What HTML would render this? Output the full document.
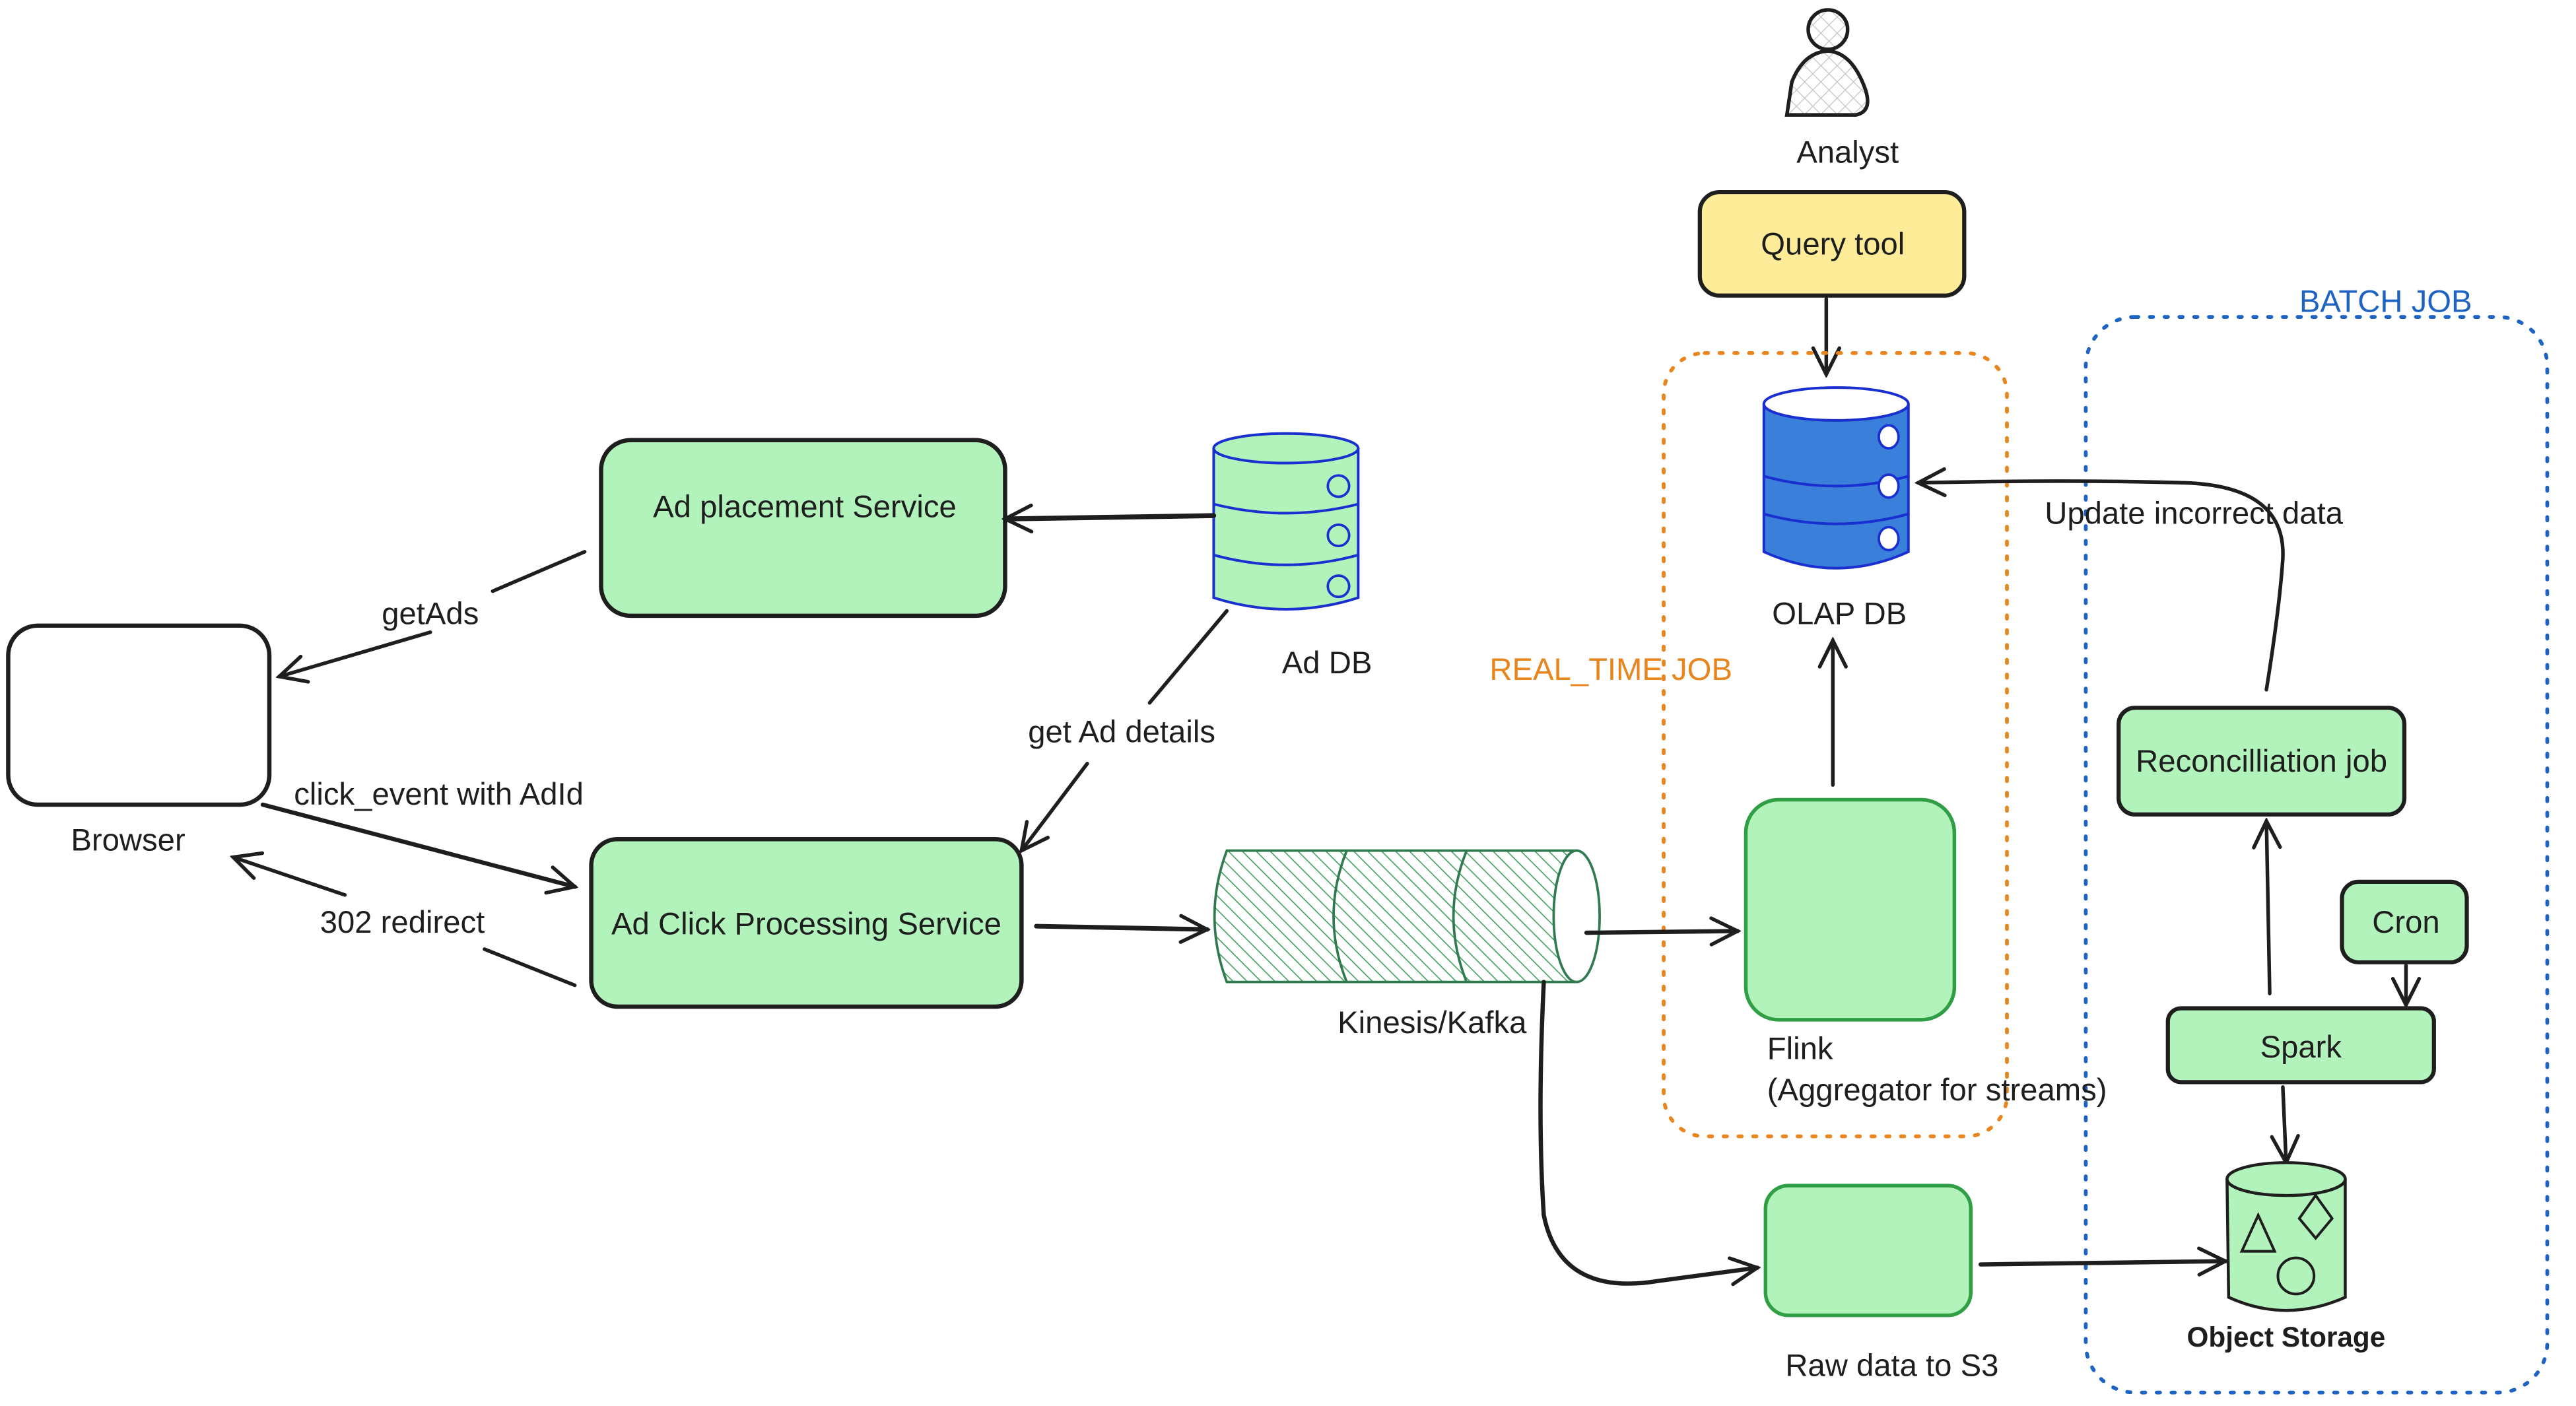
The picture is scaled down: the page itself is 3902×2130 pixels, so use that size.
<!DOCTYPE html>
<html><head><meta charset="utf-8"><style>
html,body{margin:0;padding:0;background:#fff;}
svg{display:block;}
text{font-family:"Liberation Sans",sans-serif;font-size:19px;fill:#1e1e1e;}
</style></head><body>
<svg width="3902" height="2130" viewBox="0 0 1568.5 856.2" xmlns="http://www.w3.org/2000/svg">
<defs>
<marker id="ah" viewBox="0 0 20 20" refX="18" refY="10" markerWidth="20" markerHeight="20" markerUnits="userSpaceOnUse" orient="auto">
<path d="M2,2 L18,10 L2,18" fill="none" stroke="#1e1e1e" stroke-width="2.2" stroke-linecap="round"/>
</marker>
<pattern id="hatch" width="6" height="6" patternUnits="userSpaceOnUse" patternTransform="rotate(-45)">
<rect width="6" height="6" fill="#fff"/>
<line x1="0" y1="0" x2="0" y2="6" stroke="#40a060" stroke-width="1.3"/>
</pattern>
<pattern id="xh" width="7" height="7" patternUnits="userSpaceOnUse" patternTransform="rotate(45)">
<rect width="7" height="7" fill="#fff"/>
<line x1="0" y1="0" x2="0" y2="7" stroke="#c0c4ca" stroke-width="1"/>
<line x1="0" y1="0" x2="7" y2="0" stroke="#c0c4ca" stroke-width="1"/>
</pattern>
</defs>
<g fill="none" stroke="#1e1e1e" stroke-width="2.2" stroke-linecap="round">

<circle cx="1113" cy="18" r="12" fill="url(#xh)"/>
<path d="M1088,70 L1091,50 Q1098,32 1113,31 Q1128,32 1136,55 Q1140,68 1130,70 Z" fill="url(#xh)"/>

<rect x="1035" y="117" width="161" height="63" rx="12" fill="#ffec99" stroke-width="2.5"/>
<line x1="1112" y1="182" x2="1112" y2="228" marker-end="url(#ah)"/>

<rect x="1013" y="215" width="209" height="477" rx="25" stroke="#e8851d" stroke-width="2.3" stroke-dasharray="2 7"/>
<rect x="1270" y="193" width="281" height="655" rx="30" stroke="#1e62c2" stroke-width="2.3" stroke-dasharray="2 7"/>

<path d="M1074,246 L1074,336 Q1118,356 1162,336 L1162,246" fill="#3a7fd9" stroke="#1a2fd0" stroke-width="1.6"/>
<ellipse cx="1118" cy="246" rx="44" ry="10" fill="#fff" stroke="#1a2fd0" stroke-width="1.6"/>
<path d="M1074,290 Q1118,302 1162,290 M1074,313 Q1118,325 1162,313" stroke="#1a2fd0" stroke-width="1.6"/>
<ellipse cx="1150" cy="266" rx="6" ry="7" fill="#fff" stroke="#1a2fd0" stroke-width="1.5"/>
<ellipse cx="1150" cy="296" rx="6" ry="7" fill="#fff" stroke="#1a2fd0" stroke-width="1.5"/>
<ellipse cx="1150" cy="328" rx="6" ry="7" fill="#fff" stroke="#1a2fd0" stroke-width="1.5"/>
<line x1="1116" y1="478" x2="1116" y2="390" marker-end="url(#ah)"/>

<rect x="1063" y="487" width="127" height="134" rx="20" fill="#b2f2bb" stroke="#2f9e44" stroke-width="2.2"/>

<path d="M1380,420 Q1388,370 1390,340 Q1392,296 1330,294 Q1260,292 1168,294" marker-end="url(#ah)"/>

<rect x="1290" y="431" width="174" height="65" rx="10" fill="#b2f2bb" stroke-width="2.5"/>
<line x1="1382" y1="605" x2="1380" y2="500" marker-end="url(#ah)"/>
<rect x="1426" y="537" width="76" height="49" rx="10" fill="#b2f2bb" stroke-width="2.5"/>
<line x1="1465" y1="588" x2="1465" y2="612" marker-end="url(#ah)"/>
<rect x="1320" y="614" width="162" height="45" rx="8" fill="#b2f2bb" stroke-width="2.5"/>
<line x1="1390" y1="662" x2="1392" y2="708" marker-end="url(#ah)"/>

<path d="M1356,718 L1357,790 Q1392,806 1428,790 L1428,718" fill="#b2f2bb" stroke-width="1.8"/>
<ellipse cx="1392" cy="718" rx="36" ry="10" fill="#b2f2bb" stroke-width="1.8"/>
<path d="M1365,762 L1375,740 L1385,762 Z" stroke-width="1.6"/>
<path d="M1410,728 L1420,742 L1410,754 L1400,742 Z" stroke-width="1.6"/>
<ellipse cx="1398" cy="777" rx="11" ry="11" stroke-width="1.6"/>

<rect x="1075" y="722" width="125" height="79" rx="14" fill="#b2f2bb" stroke="#2f9e44" stroke-width="2.2"/>
<line x1="1206" y1="770" x2="1355" y2="768" marker-end="url(#ah)" stroke-width="2.6"/>

<path d="M747,518 L960,518 Q975,558 960,598 L747,598 Q732,558 747,518 Z" fill="url(#hatch)" stroke="#2f7a4f" stroke-width="1.5"/>
<path d="M820,518 Q804,558 820,598 M893,518 Q877,558 893,598" stroke="#2f7a4f" stroke-width="1.5"/>
<ellipse cx="960" cy="558" rx="14" ry="40" fill="#fff" stroke="#2f7a4f" stroke-width="1.5"/>
<line x1="966" y1="568" x2="1058" y2="567" marker-end="url(#ah)" stroke-width="2.6"/>
<path d="M940,598 Q936,680 940,740 Q950,790 1010,780 L1070,772" marker-end="url(#ah)" stroke-width="2.6"/>

<rect x="360" y="511" width="262" height="102" rx="16" fill="#b2f2bb" stroke-width="2.6"/>
<line x1="631" y1="564" x2="735" y2="566" marker-end="url(#ah)" stroke-width="2.8"/>

<rect x="366" y="268" width="246" height="107" rx="18" fill="#b2f2bb" stroke-width="2.6"/>

<path d="M739,273 L739,364 Q783,378 827,364 L827,273" fill="#b2f2bb" stroke="#1a2fd0" stroke-width="1.6"/>
<ellipse cx="783" cy="273" rx="44" ry="9" fill="#b2f2bb" stroke="#1a2fd0" stroke-width="1.6"/>
<path d="M739,307 Q783,318 827,307 M739,338 Q783,350 827,338" stroke="#1a2fd0" stroke-width="1.6"/>
<circle cx="815" cy="296" r="6.5" stroke="#1a2fd0" stroke-width="1.5"/>
<circle cx="815" cy="326" r="6.5" stroke="#1a2fd0" stroke-width="1.5"/>
<circle cx="815" cy="357" r="6.5" stroke="#1a2fd0" stroke-width="1.5"/>
<line x1="739" y1="314" x2="612" y2="316" marker-end="url(#ah)" stroke-width="3"/>
<line x1="747" y1="372" x2="700" y2="428"/>
<line x1="662" y1="465" x2="622" y2="518" marker-end="url(#ah)"/>

<rect x="5" y="381" width="159" height="109" rx="18" fill="#fff" stroke-width="2.6"/>
<line x1="356" y1="336" x2="300" y2="360"/>
<line x1="262" y1="385" x2="170" y2="412" marker-end="url(#ah)"/>
<line x1="160" y1="490" x2="350" y2="540" marker-end="url(#ah)" stroke-width="2.6"/>
<line x1="350" y1="600" x2="295" y2="578"/>
<line x1="210" y1="545" x2="142" y2="522" marker-end="url(#ah)"/>
</g>

<g>
<text x="1125" y="99" text-anchor="middle">Analyst</text>
<text x="1116" y="155" text-anchor="middle">Query tool</text>
<text x="1120" y="380" text-anchor="middle">OLAP DB</text>
<text x="907" y="414" style="fill:#e8851d">REAL_TIME JOB</text>
<text x="1400" y="190" style="fill:#1e62c2">BATCH JOB</text>
<text x="1245" y="319">Update incorrect data</text>
<text x="1377" y="470" text-anchor="middle">Reconcilliation job</text>
<text x="1465" y="568" text-anchor="middle">Cron</text>
<text x="1401" y="644" text-anchor="middle">Spark</text>
<text x="1392" y="820" text-anchor="middle" style="font-size:17px;font-weight:bold">Object Storage</text>
<text x="1076" y="645">Flink</text>
<text x="1076" y="670">(Aggregator for streams)</text>
<text x="1152" y="838" text-anchor="middle">Raw data to S3</text>
<text x="872" y="629" text-anchor="middle">Kinesis/Kafka</text>
<text x="491" y="569" text-anchor="middle">Ad Click Processing Service</text>
<text x="490" y="315" text-anchor="middle">Ad placement Service</text>
<text x="808" y="410" text-anchor="middle">Ad DB</text>
<text x="683" y="452" text-anchor="middle">get Ad details</text>
<text x="78" y="518" text-anchor="middle">Browser</text>
<text x="262" y="380" text-anchor="middle">getAds</text>
<text x="179" y="490">click_event with AdId</text>
<text x="245" y="568" text-anchor="middle">302 redirect</text>
</g>
</svg>
</body></html>
